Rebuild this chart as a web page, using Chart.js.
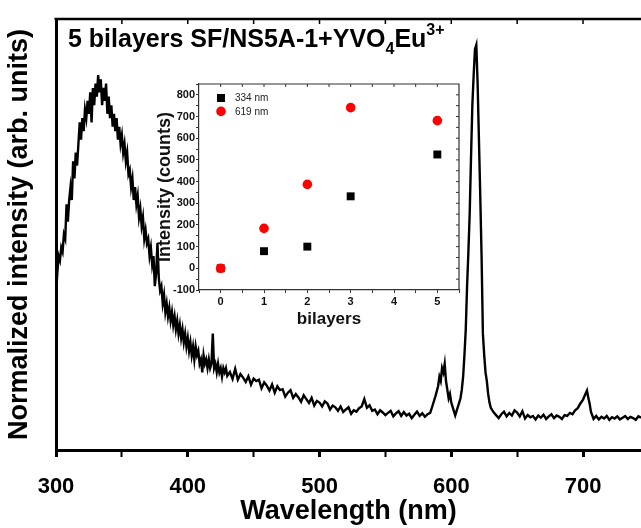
<!DOCTYPE html>
<html>
<head>
<meta charset="utf-8">
<script src="https://cdn.jsdelivr.net/npm/chart.js@4.4.0/dist/chart.umd.min.js"></script>
<style>
  html, body { margin: 0; padding: 0; background: #fff; }
  #wrap { position: relative; width: 641px; height: 528px; overflow: hidden; }
  #mainChart { position: absolute; left: 0; top: 0; }
  #insetChart { position: absolute; left: 150px; top: 74px; }
</style>
</head>
<body>
<div id="wrap">
  <canvas id="mainChart" width="641" height="528"></canvas>
  <canvas id="insetChart" width="320" height="260"></canvas>
</div>
<script>
// Emission spectrum (normalized)
const wavelength = [
  300, 301, 302, 303, 304, 305, 306, 307, 308, 309, 310, 311, 312, 313, 314, 315, 316, 317, 318, 319,
  320, 321, 322, 323, 324, 325, 326, 327, 328, 329, 330, 331, 332, 333, 334, 335, 336, 337, 338, 339,
  340, 341, 342, 343, 344, 345, 346, 347, 348, 349, 350, 351, 352, 353, 354, 355, 356, 357, 358, 359,
  360, 361, 362, 363, 364, 365, 366, 367, 368, 369, 370, 371, 372, 373, 374, 375, 376, 377, 378, 379,
  380, 381, 382, 383, 384, 385, 386, 387, 388, 389, 390, 391, 392, 393, 394, 395, 396, 397, 398, 399,
  400, 401, 402, 403, 404, 405, 406, 407, 408, 409, 410, 411, 412, 413, 414, 415, 416, 417, 418, 419,
  420, 421, 422, 423, 424, 425, 426, 427, 428, 429, 430, 432, 434, 436, 438, 440, 442, 444, 446, 448,
  450, 452, 454, 456, 458, 460, 462, 464, 466, 468, 470, 472, 474, 476, 478, 480, 482, 484, 486, 488,
  490, 492, 494, 496, 498, 500, 502, 504, 506, 508, 510, 512, 514, 516, 518, 520, 522, 524, 526, 528,
  530, 532, 534, 536, 538, 540, 542, 544, 546, 548, 550, 552, 554, 556, 558, 560, 562, 564, 566, 568,
  570, 572, 574, 576, 578, 580, 582, 584, 586, 588, 590, 591, 592, 593, 594, 595, 596, 597, 598, 599,
  600, 601, 602, 603, 604, 605, 606, 607, 608, 609, 610, 611, 612, 613, 614, 615, 616, 617, 618, 619,
  620, 621, 622, 623, 624, 625, 626, 627, 628, 629, 630, 632, 634, 636, 638, 640, 642, 644, 646, 648,
  650, 652, 654, 656, 658, 660, 662, 664, 666, 668, 670, 672, 674, 676, 678, 680, 682, 684, 686, 688,
  690, 692, 694, 696, 698, 700, 702, 703, 704, 705, 706, 708, 710, 712, 714, 716, 718, 720, 722, 724,
  726, 728, 730, 732, 734, 736, 738, 740, 742, 744
];
const intensity = [
  0.36, 0.41, 0.45, 0.44, 0.47, 0.46, 0.50, 0.49, 0.57, 0.53, 0.58, 0.61, 0.58, 0.67, 0.63, 0.69, 0.66, 0.71, 0.76, 0.72,
  0.77, 0.74, 0.79, 0.77, 0.81, 0.78, 0.83, 0.76, 0.84, 0.80, 0.85, 0.82, 0.87, 0.83, 0.86, 0.80, 0.84, 0.81, 0.85, 0.78,
  0.82, 0.77, 0.80, 0.75, 0.78, 0.74, 0.77, 0.72, 0.75, 0.71, 0.73, 0.69, 0.71, 0.67, 0.69, 0.64, 0.65, 0.61, 0.63, 0.58,
  0.61, 0.57, 0.59, 0.54, 0.56, 0.52, 0.54, 0.49, 0.51, 0.48, 0.49, 0.45, 0.47, 0.43, 0.45, 0.38, 0.41, 0.48, 0.40, 0.37,
  0.38, 0.34, 0.36, 0.32, 0.34, 0.31, 0.33, 0.30, 0.32, 0.29, 0.31, 0.28, 0.30, 0.27, 0.29, 0.26, 0.28, 0.25, 0.27, 0.24,
  0.26, 0.23, 0.25, 0.22, 0.24, 0.21, 0.24, 0.22, 0.23, 0.20, 0.21, 0.18, 0.22, 0.20, 0.21, 0.19, 0.21, 0.19, 0.20, 0.27,
  0.19, 0.20, 0.18, 0.20, 0.18, 0.19, 0.17, 0.19, 0.18, 0.19, 0.172, 0.181, 0.165, 0.188, 0.163, 0.176, 0.168, 0.158, 0.171, 0.152,
  0.166, 0.160, 0.163, 0.143, 0.157, 0.149, 0.138, 0.152, 0.133, 0.148, 0.139, 0.141, 0.124, 0.133, 0.139, 0.121, 0.130, 0.122, 0.112, 0.127,
  0.118, 0.109, 0.121, 0.103, 0.114, 0.110, 0.101, 0.113, 0.108, 0.094, 0.103, 0.099, 0.091, 0.101, 0.088, 0.094, 0.099, 0.084, 0.092, 0.089,
  0.097, 0.101, 0.118, 0.098, 0.104, 0.091, 0.094, 0.083, 0.092, 0.087, 0.081, 0.086, 0.091, 0.078, 0.085, 0.090, 0.079, 0.088, 0.080, 0.084,
  0.074, 0.082, 0.089, 0.079, 0.085, 0.077, 0.083, 0.086, 0.105, 0.125, 0.148, 0.17, 0.16, 0.19, 0.18, 0.20, 0.16, 0.14, 0.12, 0.13,
  0.11, 0.10, 0.09, 0.08, 0.09, 0.10, 0.11, 0.12, 0.14, 0.17, 0.22, 0.28, 0.38, 0.46, 0.55, 0.68, 0.80, 0.87, 0.93, 0.94,
  0.85, 0.72, 0.59, 0.45, 0.27, 0.22, 0.18, 0.16, 0.13, 0.11, 0.098, 0.088, 0.081, 0.074, 0.083, 0.089, 0.078, 0.086, 0.080, 0.092,
  0.087, 0.078, 0.090, 0.073, 0.081, 0.076, 0.079, 0.071, 0.080, 0.075, 0.082, 0.072, 0.078, 0.083, 0.074, 0.080, 0.077, 0.072, 0.081, 0.079,
  0.086, 0.083, 0.092, 0.097, 0.108, 0.117, 0.131, 0.138, 0.121, 0.108, 0.089, 0.072, 0.079, 0.071, 0.077, 0.073, 0.079, 0.070, 0.076, 0.073,
  0.078, 0.071, 0.075, 0.079, 0.072, 0.077, 0.074, 0.070, 0.078, 0.075
];
const wavelengthLabels = [300, 400, 500, 600, 700];

// Inset: peak intensity vs number of bilayers
const bilayers = [0, 1, 2, 3, 5];
const counts334 = [0, 79, 100, 332, 525];
const counts619 = [0, 184, 387, 741, 681];
const seriesNames = ['334 nm', '619 nm'];

Chart.defaults.font.family = "'Liberation Sans', Arial, sans-serif";
Chart.defaults.color = '#000';

const FONT = "'Liberation Sans', Arial, sans-serif";

// title with sub/superscripts
const titlePlugin = {
  id: 'sampleTitle',
  afterDraw(chart) {
    const ctx = chart.ctx;
    const big = 'bold 25px ' + FONT;
    const small = 'bold 16px ' + FONT;
    const parts = [
      ['5 bilayers SF/NS5A-1+YVO', big, 0],
      ['4', small, 7],
      ['Eu', big, 0],
      ['3+', small, -12]
    ];
    let x = 68;
    const y = 47;
    ctx.save();
    ctx.fillStyle = '#000';
    ctx.textBaseline = 'alphabetic';
    parts.forEach(([t, f, dy]) => {
      ctx.font = f;
      ctx.fillText(t, x, y + dy);
      x += ctx.measureText(t).width;
    });
    ctx.restore();
  }
};

// top border + small inward ticks on main plot
const mainFrame = {
  id: 'mainFrame',
  afterDraw(chart) {
    const { ctx, chartArea: a, scales: { x } } = chart;
    ctx.save();
    ctx.strokeStyle = '#000';
    ctx.lineWidth = 2.5;
    ctx.beginPath();
    ctx.moveTo(a.left - 1.5, a.top);
    ctx.lineTo(a.right, a.top);
    ctx.stroke();
    ctx.lineWidth = 1.5;
    for (let v = 350; v < x.max; v += 50) {
      const px = x.getPixelForValue(v);
      ctx.beginPath();
      ctx.moveTo(px, a.top);
      ctx.lineTo(px, a.top + 5);
      ctx.stroke();
    }
    ctx.restore();
  }
};

new Chart(document.getElementById('mainChart'), {
  type: 'line',
  data: {
    datasets: [{
      data: wavelength.map((w, i) => ({ x: w, y: intensity[i] })),
      borderColor: '#000',
      borderWidth: 2.4,
      pointRadius: 0,
      tension: 0,
      fill: false
    }]
  },
  options: {
    responsive: false,
    animation: false,
    events: [],
    layout: { padding: { top: 19, left: 0, right: 0, bottom: 0 } },
    plugins: { legend: { display: false }, tooltip: { enabled: false } },
    scales: {
      x: {
        type: 'linear',
        min: 300,
        max: 744,
        afterFit(s) { s.height = 78; },
        border: { color: '#000', width: 3 },
        grid: {
          drawOnChartArea: false,
          tickLength: 7,
          tickColor: '#000',
          tickWidth: c => (c.tick && c.tick.value % 100 === 0 ? 3 : 2)
        },
        ticks: {
          stepSize: 50,
          includeBounds: false,
          autoSkip: false,
          maxRotation: 0,
          padding: 17,
          color: '#000',
          font: { size: 22, weight: 'bold' },
          callback: v => (wavelengthLabels.includes(v) ? String(v) : '')
        },
        title: {
          display: true,
          text: 'Wavelength (nm)',
          color: '#000',
          font: { size: 27, weight: 'bold' },
          padding: 0
        }
      },
      y: {
        min: 0,
        max: 1,
        afterFit(s) { s.width = 56; },
        border: { color: '#000', width: 3 },
        grid: { drawOnChartArea: false, drawTicks: false },
        ticks: { display: false },
        title: {
          display: true,
          text: 'Normalized intensity (arb. units)',
          color: '#000',
          font: { size: 27, weight: 'bold' },
          padding: { top: 3, bottom: 0 }
        }
      }
    }
  },
  plugins: [mainFrame, titlePlugin]
});

// inset frame: top/right lines with inward ticks
const insetFrame = {
  id: 'insetFrame',
  afterDraw(chart) {
    const { ctx, chartArea: a, scales: { x, y } } = chart;
    ctx.save();
    ctx.strokeStyle = '#333';
    ctx.lineWidth = 1.2;
    ctx.beginPath();
    ctx.moveTo(a.left, a.top);
    ctx.lineTo(a.right, a.top);
    ctx.lineTo(a.right, a.bottom);
    ctx.stroke();
    ctx.lineWidth = 1;
    for (let v = 0; v < x.max; v += 0.5) {
      const px = x.getPixelForValue(v);
      ctx.beginPath();
      ctx.moveTo(px, a.top);
      ctx.lineTo(px, a.top + 3);
      ctx.stroke();
    }
    for (let v = -50; v < y.max; v += 50) {
      const py = y.getPixelForValue(v);
      ctx.beginPath();
      ctx.moveTo(a.right, py);
      ctx.lineTo(a.right - 3, py);
      ctx.stroke();
    }
    ctx.restore();
  }
};

// inset legend drawn in the top-left of the plot area
const insetLegend = {
  id: 'insetLegend',
  afterDraw(chart) {
    const { ctx, chartArea: a } = chart;
    ctx.save();
    ctx.font = '10px ' + FONT;
    ctx.textBaseline = 'middle';
    chart.data.datasets.forEach((ds, i) => {
      const mx = a.left + 22;
      const my = a.top + 14 + i * 13.4;
      ctx.fillStyle = ds.backgroundColor;
      ctx.beginPath();
      if (ds.pointStyle === 'rect') {
        ctx.rect(mx - 4, my - 4, 8, 8);
      } else {
        ctx.arc(mx, my, 4.8, 0, Math.PI * 2);
      }
      ctx.fill();
      ctx.fillStyle = '#222';
      ctx.fillText(ds.label, a.left + 36, my + 0.5);
    });
    ctx.restore();
  }
};

new Chart(document.getElementById('insetChart'), {
  type: 'scatter',
  data: {
    datasets: [
      {
        label: seriesNames[0],
        data: bilayers.map((b, i) => ({ x: b, y: counts334[i] })),
        pointStyle: 'rect',
        pointRadius: 5.6,
        backgroundColor: '#000',
        borderColor: '#000',
        borderWidth: 0,
        order: 2
      },
      {
        label: seriesNames[1],
        data: bilayers.map((b, i) => ({ x: b, y: counts619[i] })),
        pointStyle: 'circle',
        pointRadius: 4.8,
        backgroundColor: '#ff0000',
        borderColor: '#ff0000',
        borderWidth: 0,
        order: 1
      }
    ]
  },
  options: {
    responsive: false,
    animation: false,
    events: [],
    layout: { padding: { top: 10, right: 11, left: 0, bottom: 0 } },
    plugins: { legend: { display: false }, tooltip: { enabled: false } },
    scales: {
      x: {
        type: 'linear',
        min: -0.5,
        max: 5.5,
        afterFit(s) { s.height = 44; },
        border: { color: '#333', width: 1.2 },
        grid: { drawOnChartArea: false, tickLength: 3, tickColor: '#333', tickWidth: 1 },
        ticks: {
          stepSize: 0.5,
          includeBounds: false,
          autoSkip: false,
          maxRotation: 0,
          padding: 2,
          color: '#111',
          font: { size: 11, weight: 'bold' },
          callback: v => (Number.isInteger(v) ? String(v) : '')
        },
        title: {
          display: true,
          text: 'bilayers',
          color: '#111',
          font: { size: 17, weight: 'bold' },
          padding: { top: 0, bottom: 4 }
        }
      },
      y: {
        min: -100,
        max: 850,
        afterFit(s) { s.width = 49; },
        border: { color: '#333', width: 1.2 },
        grid: { drawOnChartArea: false, tickLength: 3, tickColor: '#333', tickWidth: 1 },
        ticks: {
          stepSize: 50,
          includeBounds: false,
          autoSkip: false,
          padding: 1,
          color: '#111',
          font: { size: 11, weight: 'bold' },
          callback: v => (v % 100 === 0 ? String(v) : '')
        },
        title: {
          display: true,
          text: 'Intensity (counts)',
          color: '#111',
          font: { size: 18, weight: 'bold' },
          padding: { top: 4, bottom: 0 }
        }
      }
    }
  },
  plugins: [insetFrame, insetLegend]
});
</script>
</body>
</html>
